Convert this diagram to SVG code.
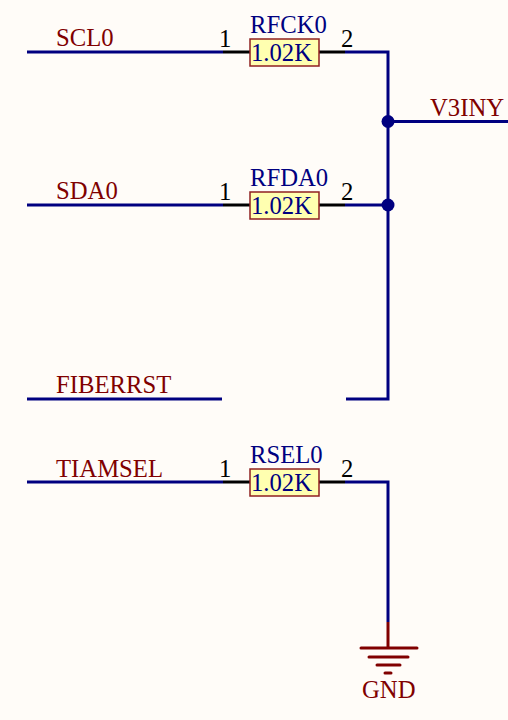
<svg xmlns="http://www.w3.org/2000/svg" width="508" height="720" viewBox="0 0 508 720">
<style>
text{font-family:"Liberation Serif","Times New Roman",serif;font-size:24.700px}
.net{fill:#800000}
.des{fill:#000080}
.pin{fill:#000000}
.w{stroke:#000080;stroke-width:3;fill:none}
.p{stroke:#000000;stroke-width:3;fill:none}
.g{stroke:#800000;stroke-width:3;fill:none;stroke-linecap:round}
.r{fill:#ffffb0;stroke:#902020;stroke-width:1.500}
.d{fill:#000080}
</style>
<rect width="508" height="720" fill="#fffcf8"/>
<g id="connectors">
<path class="w" d="M27 52H223M345 52H388V399H346M27 205H223M345 205H388M388 121.500H508M27 399H222M27 482H223M345 482H388V622"/>
<path class="g" d="M388 622V648" style="stroke-linecap:butt"/>
<circle class="d" cx="388" cy="121.500" r="6.500"/>
<circle class="d" cx="388" cy="205" r="6.500"/>
</g>
<g id="SCL0"><text class="net" x="56" y="46">SCL0</text></g>
<g id="SDA0"><text class="net" x="56" y="199">SDA0</text></g>
<g id="FIBERRST"><text class="net" x="56" y="393">FIBERRST</text></g>
<g id="TIAMSEL"><text class="net" x="56" y="477">TIAMSEL</text></g>
<g id="V3INY"><text class="net" x="430" y="116">V3INY</text></g>
<g id="RFCK0">
<path class="p" d="M223 52H250M319 52H345"/>
<rect class="r" x="250" y="39" width="69" height="27"/>
<text class="pin" x="219" y="47">1</text><text class="pin" x="341" y="47">2</text>
<text class="des" x="250" y="33">RFCK0</text><text class="des" x="251" y="61">1.02K</text>
</g>
<g id="RFDA0">
<path class="p" d="M223 205H250M319 205H345"/>
<rect class="r" x="250" y="192" width="69" height="27"/>
<text class="pin" x="219" y="200">1</text><text class="pin" x="341" y="200">2</text>
<text class="des" x="250" y="186">RFDA0</text><text class="des" x="251" y="214">1.02K</text>
</g>
<g id="RSEL0">
<path class="p" d="M223 482H250M319 482H345"/>
<rect class="r" x="250" y="469" width="69" height="27"/>
<text class="pin" x="219" y="477">1</text><text class="pin" x="341" y="477">2</text>
<text class="des" x="250" y="463">RSEL0</text><text class="des" x="251" y="491">1.02K</text>
</g>
<g id="GND">
<path class="g" d="M361 648H417M369 657H408M377 665H400M385 673H391"/>
<text class="net" x="362" y="698">GND</text>
</g>
</svg>
